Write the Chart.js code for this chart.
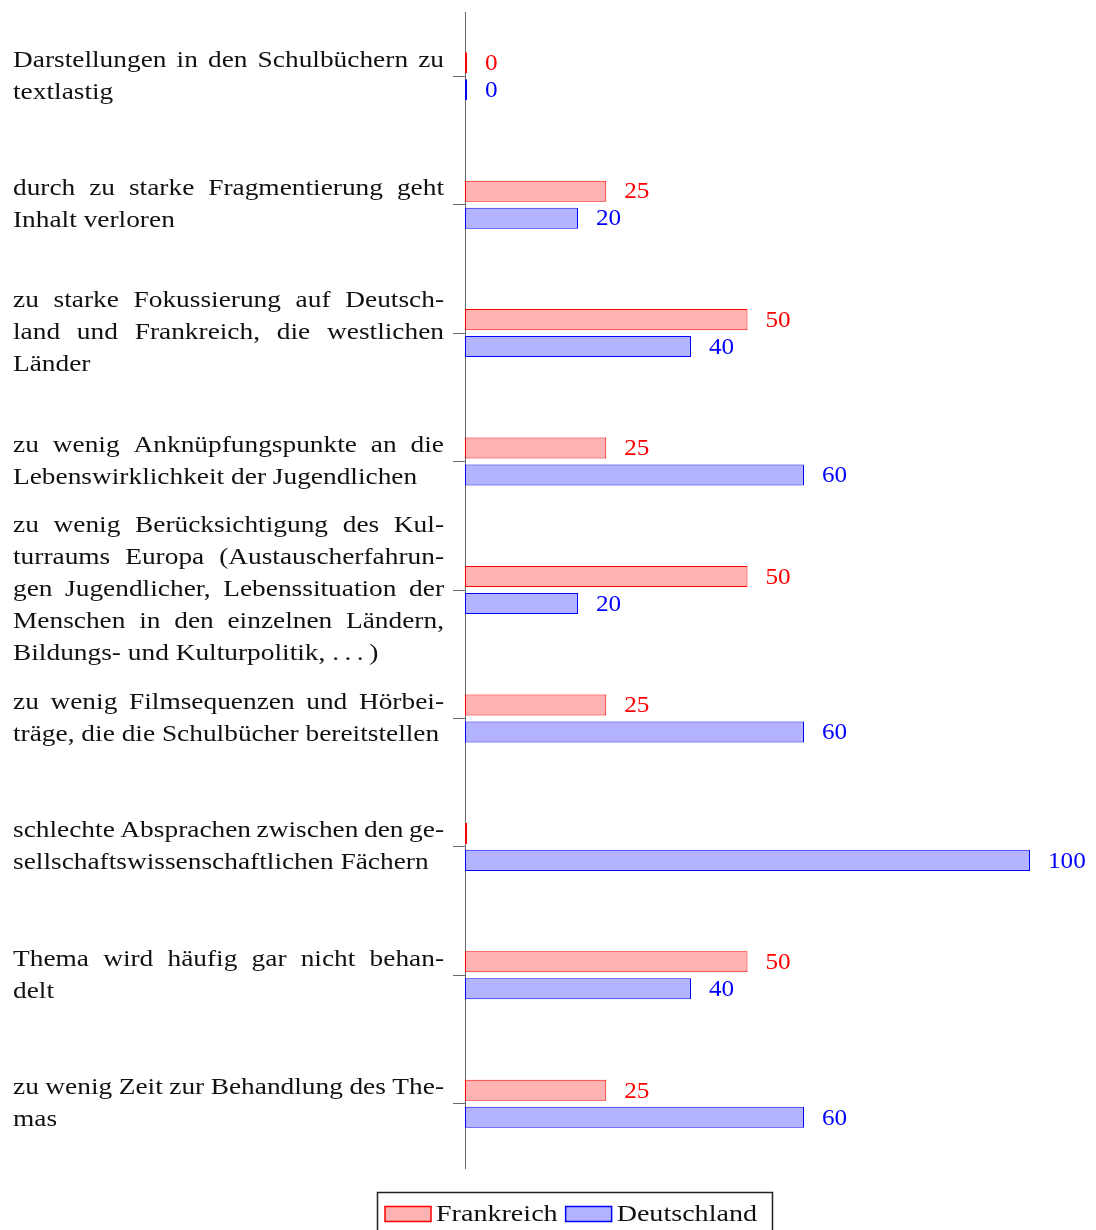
<!DOCTYPE html>
<html>
<head>
<meta charset="utf-8">
<script src="https://cdn.jsdelivr.net/npm/chart.js@4.4.1/dist/chart.umd.min.js"></script>
<style>
  html, body { margin: 0; padding: 0; background: #fff; }
</style>
</head>
<body>
<canvas id="chart" width="1096" height="1230"></canvas>
<script>
// Categories (already broken into lines like the original, justified)
const categories = [
  ["Darstellungen in den Schulbüchern zu", "textlastig"],
  ["durch zu starke Fragmentierung geht", "Inhalt verloren"],
  ["zu starke Fokussierung auf Deutsch-", "land und Frankreich, die westlichen", "Länder"],
  ["zu wenig Anknüpfungspunkte an die", "Lebenswirklichkeit der Jugendlichen"],
  ["zu wenig Berücksichtigung des Kul-", "turraums Europa (Austauscherfahrun-", "gen Jugendlicher, Lebenssituation der", "Menschen in den einzelnen Ländern,", "Bildungs- und Kulturpolitik, .\u2009.\u2009.\u2009)"],
  ["zu wenig Filmsequenzen und Hörbei-", "träge, die die Schulbücher bereitstellen"],
  ["schlechte Absprachen zwischen den ge-", "sellschaftswissenschaftlichen Fächern"],
  ["Thema wird häufig gar nicht behan-", "delt"],
  ["zu wenig Zeit zur Behandlung des The-", "mas"]
];

const frankreich = [0, 25, 50, 25, 50, 25, 0, 50, 25];
const deutschland = [0, 20, 40, 60, 20, 60, 100, 40, 60];
const seriesNames = ["Frankreich", "Deutschland"];
// value label missing in the original: [dataset, index]
const hiddenValueLabels = [[0, 6]];

const FONT = '24px "Liberation Serif", "DejaVu Serif", serif';
const TEXT_SX = 1.14;   // widen Times a bit so it runs like Computer Modern
const NUM_SX = 1.05;
const AXIS = "#6b6b6b";
const TEXT = "#111";
const RED = "#ff0000", RED_FILL = "#ffb3b3";
const BLUE = "#0000ff", BLUE_FILL = "#b3b3ff";

function wideText(c, str, x, y, sx) {
  c.save();
  c.translate(x, y);
  c.scale(sx, 1);
  c.fillText(str, 0, 0);
  c.restore();
}

// Justified category labels on the left of the y axis
const categoryLabels = {
  id: "categoryLabels",
  afterDraw(chart) {
    const c = chart.ctx;
    const y = chart.scales.y;
    const left = 13, right = 444, lineH = 32, minGap = 5;
    c.save();
    c.font = FONT;
    c.fillStyle = TEXT;
    c.textBaseline = "middle";
    c.textAlign = "left";
    chart.data.labels.forEach((lines, i) => {
      const cy = y.getPixelForValue(i);
      const y0 = cy - (lines.length - 1) * lineH / 2;
      lines.forEach((line, li) => {
        const ly = y0 + li * lineH;
        const words = line.split(" ");
        const raw = words.map((w) => c.measureText(w).width);
        const rawTotal = raw.reduce((a, b) => a + b, 0);
        // squeeze a line a little if it would not fit
        const room = right - left - minGap * (words.length - 1);
        const sx = Math.min(TEXT_SX, room / rawTotal);
        if (li === lines.length - 1 || words.length < 2) {
          const natural = c.measureText(line).width;
          wideText(c, line, left, ly, Math.min(TEXT_SX, (right - left) / natural));
          return;
        }
        const widths = raw.map((w) => w * sx);
        const total = rawTotal * sx;
        const gap = (right - left - total) / (words.length - 1);
        let x = left;
        words.forEach((w, wi) => {
          wideText(c, w, x, ly, sx);
          x += widths[wi] + gap;
        });
      });
    });
    c.restore();
  }
};

// Numbers at the end of the bars
const valueLabels = {
  id: "valueLabels",
  afterDatasetsDraw(chart) {
    const c = chart.ctx;
    c.save();
    c.font = FONT;
    c.textBaseline = "middle";
    c.textAlign = "left";
    chart.data.datasets.forEach((ds, di) => {
      const meta = chart.getDatasetMeta(di);
      meta.data.forEach((bar, i) => {
        if (hiddenValueLabels.some(([d, k]) => d === di && k === i)) return;
        c.fillStyle = ds.borderColor;
        wideText(c, String(ds.data[i]), bar.x + 18, bar.y + 1, NUM_SX);
      });
    });
    c.restore();
  }
};

// Framed legend below the plot
const boxLegend = {
  id: "boxLegend",
  afterDraw(chart) {
    const c = chart.ctx;
    c.save();
    c.font = FONT;
    c.textBaseline = "middle";
    const sw = 46, sh = 15;
    const left = 377, top = 1192, cy = 1214;
    let x = left + 8;
    chart.data.datasets.forEach((ds, i) => {
      if (i > 0) x += 8;
      c.fillStyle = ds.backgroundColor;
      c.fillRect(x, cy - sh / 2, sw, sh);
      c.strokeStyle = ds.borderColor;
      c.lineWidth = 1.5;
      c.strokeRect(x, cy - sh / 2, sw, sh);
      x += sw + 5;
      c.fillStyle = TEXT;
      wideText(c, ds.label, x, cy + 1, 1.17);
      x += c.measureText(ds.label).width * 1.17;
    });
    c.strokeStyle = "#222";
    c.lineWidth = 1.5;
    c.strokeRect(left + 0.5, top + 0.5, x + 15 - left, 48);
    c.restore();
  }
};

new Chart(document.getElementById("chart"), {
  type: "bar",
  data: {
    labels: categories,
    datasets: [
      {
        label: seriesNames[0],
        data: frankreich,
        backgroundColor: RED_FILL,
        borderColor: RED,
        borderWidth: 1,
        borderSkipped: false,
        minBarLength: 2,
        categoryPercentage: 0.42,
        barPercentage: 0.78,
      },
      {
        label: seriesNames[1],
        data: deutschland,
        backgroundColor: BLUE_FILL,
        borderColor: BLUE,
        borderWidth: 1,
        borderSkipped: false,
        minBarLength: 2,
        categoryPercentage: 0.42,
        barPercentage: 0.78,
      },
    ],
  },
  options: {
    indexAxis: "y",
    responsive: false,
    animation: false,
    layout: { padding: { left: 453, right: 66, top: 12, bottom: 62 } },
    plugins: {
      legend: { display: false },
      tooltip: { enabled: false },
    },
    scales: {
      x: { display: false, min: 0, max: 100 },
      y: {
        grid: { drawOnChartArea: false, drawTicks: true, tickLength: 12, color: AXIS, offset: false },
        border: { display: true, color: AXIS, width: 1 },
        ticks: { display: false },
        afterFit(scale) { scale.width = 12; },
      },
    },
  },
  plugins: [categoryLabels, valueLabels, boxLegend],
});
</script>
</body>
</html>
